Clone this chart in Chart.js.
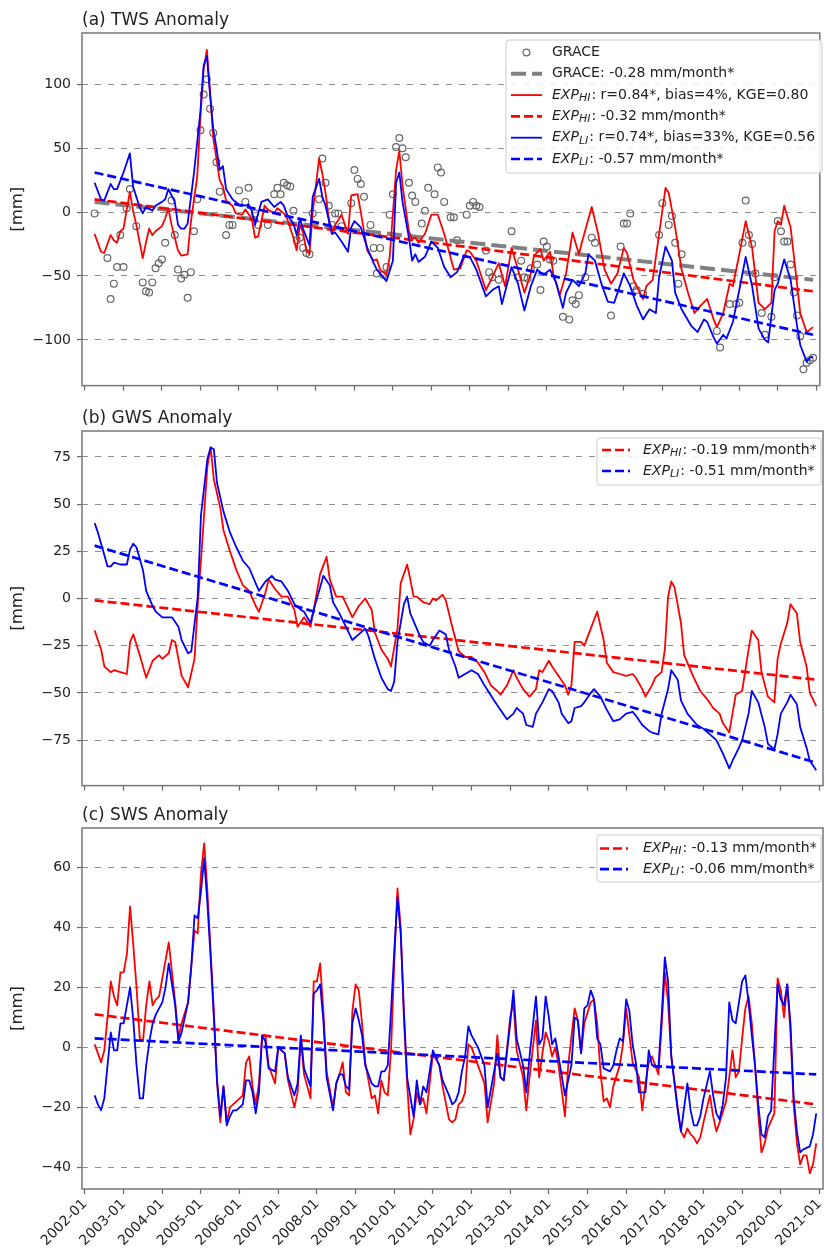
<!DOCTYPE html>
<html>
<head>
<meta charset="utf-8">
<script src="https://cdn.jsdelivr.net/npm/chart.js@4.4.1/dist/chart.umd.min.js"></script>
<style>
  html, body { margin: 0; padding: 0; background: #fff; }
  #wrap { position: relative; width: 825px; height: 1251px; }
  canvas { position: absolute; left: 0; }
</style>
</head>
<body>
<div id="wrap">
  <canvas id="twsChart" width="825" height="400" style="top:0px"></canvas>
  <canvas id="gwsChart" width="825" height="400" style="top:400px"></canvas>
  <canvas id="swsChart" width="825" height="451" style="top:800px"></canvas>
</div>
<script>
// x values are months counted from 2002-01 (0 = 2002-01, 12 = 2003-01 ...)
const tickLabels = ['2002-01', '2003-01', '2004-01', '2005-01', '2006-01', '2007-01', '2008-01',
  '2009-01', '2010-01', '2011-01', '2012-01', '2013-01', '2014-01', '2015-01', '2016-01',
  '2017-01', '2018-01', '2019-01', '2020-01', '2021-01'];

const panelTitles = ['(a) TWS Anomaly', '(b) GWS Anomaly', '(c) SWS Anomaly'];

// (a) TWS
const twsTicks = [-100, -50, 0, 50, 100];
const twsGrace = [[3,-1],[7,-36],[8,-68],[9,-56],[10,-43],[11,-18],[12,-43],[13,3],[14,18],[16,-11],[18,-55],[19,-62],[20,-63],[21,-55],[22,-44],[23,-40],[24,-37],[25,-24],[27,9],[28,-18],[29,-45],[30,-52],[31,-49],[32,-67],[33,-47],[34,-15],[35,10],[36,64],[37,92],[38,104],[39,81],[40,62],[41,39],[42,16],[44,-18],[45,-10],[46,-10],[48,17],[50,8],[51,19],[53,-1],[54,-10],[57,-10],[59,14],[60,19],[61,14],[62,23],[63,21],[64,20],[65,1],[66,-22],[67,-20],[68,-28],[69,-32],[70,-33],[71,-1],[73,10],[74,42],[75,23],[76,5],[77,-10],[78,-1],[79,-1],[80,-11],[83,7],[84,33],[85,26],[86,22],[87,12],[89,-10],[90,-28],[91,-48],[92,-28],[93,-49],[94,-43],[95,-2],[96,14],[97,51],[98,58],[99,50],[100,43],[101,23],[102,13],[103,8],[105,-9],[106,1],[107,19],[109,14],[110,35],[111,31],[112,8],[114,-4],[115,-4],[116,-22],[119,-2],[120,5],[121,8],[122,5],[123,4],[125,-30],[126,-47],[127,-51],[129,-53],[133,-15],[135,-51],[136,-38],[137,-51],[138,-52],[139,-44],[141,-41],[142,-61],[143,-23],[144,-27],[145,-37],[146,-38],[149,-82],[151,-84],[152,-69],[153,-72],[154,-65],[156,-51],[158,-20],[159,-24],[164,-81],[167,-27],[168,-9],[169,-9],[170,-1],[171,-58],[172,-61],[174,-64],[179,-18],[180,7],[182,-10],[183,-3],[184,-24],[185,-56],[186,-33],[197,-93],[198,-106],[201,-72],[203,-72],[204,-71],[205,-24],[206,9],[207,-18],[208,-25],[209,-48],[211,-79],[212,-96],[214,-82],[215,-51],[216,-7],[217,-15],[218,-23],[219,-23],[220,-41],[221,-63],[222,-81],[223,-97],[224,-123],[225,-118],[226,-116],[227,-114]];
const twsHi = [[3,-17],[5,-31],[6,-32],[8,-18],[9,-22],[10,-24],[11,-15],[12,-13],[14,16],[15,1],[16,-10],[18,-36],[19,-24],[20,-13],[21,-18],[22,-15],[24,-11],[25,-5],[26,3],[27,-10],[29,-30],[30,-34],[32,-33],[33,-8],[35,28],[36,75],[37,112],[38,127],[39,94],[40,58],[42,25],[43,20],[44,9],[46,5],[47,-1],[49,-2],[50,2],[52,-5],[53,-20],[54,-19],[56,5],[57,2],[59,-1],[60,3],[62,-1],[63,-5],[65,-20],[66,-30],[67,-10],[68,-16],[69,-30],[70,-33],[71,0],[73,42],[74,30],[75,15],[76,-5],[77,-17],[78,-10],[80,-2],[82,-17],[83,13],[85,14],[86,0],[88,-30],[90,-38],[91,-37],[92,-45],[94,-49],[95,-35],[97,33],[98,48],[99,21],[101,-15],[102,-21],[103,-20],[104,-24],[106,-17],[108,-2],[110,-2],[112,-17],[115,-45],[117,-44],[119,-30],[120,-31],[122,-38],[125,-61],[127,-51],[129,-40],[131,-58],[133,-28],[135,-45],[137,-63],[139,-48],[140,-34],[142,-29],[143,-38],[145,-31],[146,-48],[148,-65],[150,-48],[152,-16],[154,-33],[155,-23],[158,4],[160,-17],[162,-45],[164,-56],[166,-48],[168,-28],[169,-32],[171,-53],[174,-68],[175,-58],[177,-53],[179,-17],[181,19],[182,15],[184,-12],[186,-45],[188,-63],[190,-79],[192,-73],[194,-68],[196,-84],[197,-90],[199,-79],[201,-56],[202,-58],[204,-33],[206,-7],[208,-28],[210,-71],[212,-76],[214,-71],[215,-15],[216,-7],[217,-10],[218,5],[220,-12],[222,-56],[223,-79],[225,-94],[227,-90]];
const twsLi = [[3,23],[5,10],[6,9],[8,22],[9,18],[10,18],[12,31],[14,46],[15,20],[17,4],[18,-1],[19,4],[21,1],[22,5],[24,8],[25,10],[26,18],[28,8],[29,-10],[30,-13],[31,-13],[32,-9],[34,31],[35,55],[36,79],[37,115],[38,122],[39,92],[40,65],[41,50],[42,33],[43,36],[44,18],[46,10],[48,6],[50,5],[51,6],[52,1],[53,-10],[55,8],[57,10],[59,4],[61,8],[62,5],[63,-2],[65,-9],[66,-18],[67,-5],[68,-13],[70,-26],[71,12],[73,26],[74,12],[75,5],[77,-17],[78,-16],[80,-23],[82,-31],[83,-12],[84,-7],[86,-12],[88,-28],[90,-40],[91,-45],[94,-54],[96,-38],[97,23],[98,31],[99,8],[101,-20],[102,-38],[103,-33],[104,-39],[106,-35],[108,-23],[110,-28],[112,-43],[114,-51],[116,-47],[118,-35],[120,-35],[122,-45],[125,-66],[127,-61],[129,-58],[130,-72],[133,-43],[135,-56],[137,-77],[139,-58],[141,-45],[143,-49],[145,-45],[147,-56],[149,-75],[150,-63],[152,-53],[154,-58],[156,-48],[157,-33],[159,-38],[161,-56],[163,-70],[165,-71],[167,-56],[168,-48],[170,-58],[172,-73],[174,-84],[176,-76],[178,-79],[179,-51],[181,-27],[183,-38],[184,-63],[186,-76],[189,-89],[191,-94],[193,-84],[194,-86],[196,-98],[197,-103],[199,-96],[200,-99],[202,-86],[204,-61],[206,-35],[208,-58],[210,-91],[212,-100],[213,-102],[215,-61],[216,-56],[218,-37],[220,-53],[222,-89],[223,-104],[225,-117],[226,-114],[227,-113]];
const twsTrendGrace = [[3,8],[227,-53]];
const twsTrendHi = [[3,10],[227,-62]];
const twsTrendLi = [[3,31],[227,-96]];
const twsLabels = ['GRACE', 'GRACE: -0.28 mm/month*', 'EXP_HI: r=0.84*, bias=4%, KGE=0.80',
  'EXP_HI: -0.32 mm/month*', 'EXP_LI: r=0.74*, bias=33%, KGE=0.56', 'EXP_LI: -0.57 mm/month*'];

// (b) GWS
const gwsTicks = [-75, -50, -25, 0, 25, 50, 75];
const gwsHi = [[3,-17],[5,-27],[6,-36],[8,-39],[9,-38],[11,-39],[13,-40],[14,-23],[15,-19],[17,-30],[19,-42],[21,-33],[23,-30],[24,-32],[26,-29],[27,-22],[28,-23],[30,-41],[32,-47],[34,-32],[35,-3],[36,20],[37,45],[38,70],[39,80],[40,63],[42,48],[43,36],[45,25],[47,15],[49,7],[51,4],[53,-4],[54,-7],[56,3],[57,10],[59,5],[61,1],[63,1],[65,-6],[66,-15],[68,-10],[70,-15],[71,-6],[73,13],[75,22],[76,10],[78,1],[80,1],[83,-10],[85,-4],[87,0],[89,-6],[90,-18],[92,-27],[94,-32],[95,-36],[97,-16],[98,8],[100,18],[101,10],[102,1],[103,1],[105,-2],[107,-3],[108,0],[109,-1],[111,2],[112,-1],[114,-15],[116,-28],[118,-31],[120,-31],[122,-34],[124,-39],[126,-46],[128,-49],[129,-51],[131,-46],[133,-38],[134,-42],[136,-48],[138,-52],[140,-48],[141,-38],[142,-39],[144,-33],[145,-36],[147,-41],[149,-46],[150,-51],[151,-46],[152,-23],[154,-23],[155,-25],[157,-16],[159,-7],[161,-22],[162,-34],[164,-39],[166,-40],[168,-41],[170,-40],[171,-42],[173,-48],[174,-52],[176,-46],[177,-42],[179,-39],[180,-27],[181,1],[182,9],[183,6],[185,-13],[186,-30],[189,-42],[191,-49],[193,-53],[195,-58],[197,-61],[198,-66],[200,-71],[201,-61],[202,-51],[204,-49],[206,-27],[207,-17],[209,-22],[210,-39],[212,-52],[214,-55],[215,-32],[216,-24],[218,-13],[219,-3],[221,-8],[222,-23],[224,-36],[225,-50],[227,-57]];
const gwsLi = [[3,40],[4,35],[5,29],[6,23],[7,17],[8,17],[9,19],[11,18],[13,18],[14,26],[15,29],[16,27],[18,15],[19,4],[21,-4],[22,-7],[24,-10],[26,-10],[27,-10],[29,-15],[30,-22],[32,-29],[33,-28],[35,1],[36,44],[38,74],[39,80],[40,79],[41,61],[43,46],[45,35],[47,27],[49,20],[51,16],[53,8],[54,4],[56,9],[58,12],[59,10],[61,9],[63,4],[65,-3],[67,-6],[68,-7],[70,-13],[71,-6],[73,6],[74,12],[76,7],[77,-2],[79,-8],[81,-15],[83,-22],[85,-19],[87,-16],[88,-20],[90,-32],[92,-42],[94,-48],[95,-49],[96,-44],[97,-23],[99,-3],[100,1],[101,-8],[102,-12],[103,-16],[104,-20],[105,-23],[107,-25],[108,-22],[110,-17],[112,-19],[113,-27],[115,-36],[116,-42],[118,-40],[120,-38],[122,-40],[124,-46],[127,-54],[129,-59],[131,-64],[133,-61],[134,-58],[136,-61],[137,-67],[139,-68],[140,-61],[142,-55],[144,-48],[145,-49],[147,-55],[148,-61],[150,-66],[151,-65],[152,-58],[154,-57],[155,-55],[157,-50],[158,-48],[160,-52],[162,-59],[164,-65],[166,-64],[168,-61],[170,-60],[171,-62],[173,-67],[175,-70],[176,-71],[178,-72],[179,-61],[181,-48],[182,-38],[184,-43],[185,-54],[187,-61],[190,-67],[192,-69],[194,-72],[196,-75],[198,-82],[200,-90],[201,-86],[203,-79],[204,-75],[206,-61],[207,-49],[209,-55],[211,-68],[212,-77],[214,-80],[215,-72],[216,-61],[218,-55],[219,-51],[221,-56],[222,-68],[224,-79],[225,-86],[227,-91]];
const gwsTrendHi = [[3,-1],[227,-43]];
const gwsTrendLi = [[3,28],[227,-87]];
const gwsLabels = ['EXP_HI: -0.19 mm/month*', 'EXP_LI: -0.51 mm/month*'];

// (c) SWS
const swsTicks = [-40, -20, 0, 20, 40, 60];
const swsHi = [[3,1],[4,-2],[5,-5],[6,-1],[7,10],[8,22],[9,17],[10,14],[11,25],[12,25],[13,31],[14,47],[15,34],[16,20],[17,3],[18,2],[19,14],[20,22],[21,14],[22,16],[23,17],[24,23],[26,35],[27,25],[28,15],[29,3],[30,8],[32,15],[33,27],[34,39],[35,38],[36,58],[37,68],[38,52],[39,32],[40,12],[41,-12],[42,-25],[43,-13],[44,-25],[45,-20],[46,-19],[47,-18],[49,-16],[50,-5],[51,-3],[52,-13],[53,-19],[54,-12],[55,4],[56,4],[57,-6],[59,-12],[60,0],[62,-2],[63,-11],[65,-20],[66,-15],[67,3],[68,-9],[70,-17],[71,22],[72,22],[73,28],[74,12],[75,-8],[77,-20],[78,-12],[79,-9],[80,-5],[81,-15],[82,-16],[83,12],[84,21],[85,19],[86,8],[87,-5],[89,-17],[90,-16],[91,-22],[92,-11],[93,-15],[94,-16],[95,-1],[96,28],[97,53],[98,40],[99,10],[100,-12],[101,-29],[102,-24],[103,-15],[104,-19],[105,-17],[106,-22],[107,-12],[108,-2],[110,-6],[111,-13],[113,-24],[114,-25],[115,-24],[116,-19],[117,-18],[118,-15],[119,1],[120,0],[122,-6],[124,-12],[125,-25],[127,-12],[128,4],[129,-10],[130,-11],[132,10],[133,15],[134,-1],[136,-10],[137,-21],[138,-10],[140,9],[141,-10],[142,-2],[143,5],[144,2],[145,-3],[146,0],[147,-6],[149,-23],[150,-6],[152,13],[153,9],[154,-2],[155,8],[157,15],[158,16],[159,8],[160,-8],[161,-18],[162,-17],[163,-20],[164,-13],[166,-6],[167,1],[168,13],[169,4],[170,-5],[172,-10],[173,-21],[174,-12],[175,-5],[176,-3],[177,-6],[178,-9],[179,7],[180,25],[181,15],[182,-3],[184,-20],[185,-28],[186,-30],[187,-27],[188,-29],[189,-30],[190,-32],[191,-30],[192,-25],[194,-16],[195,-23],[196,-28],[197,-25],[199,-18],[200,-10],[201,-1],[202,-10],[203,-8],[204,3],[205,13],[206,17],[207,8],[208,-6],[209,-22],[210,-35],[211,-32],[212,-27],[214,-22],[215,23],[216,19],[217,10],[218,21],[219,5],[220,-19],[221,-32],[222,-39],[223,-36],[224,-36],[225,-42],[226,-39],[227,-32]];
const swsLi = [[3,-16],[4,-19],[5,-21],[6,-17],[7,-6],[8,5],[9,-1],[10,-1],[11,8],[12,8],[13,14],[14,20],[15,9],[16,-6],[17,-17],[18,-17],[19,-6],[20,2],[21,8],[22,11],[24,15],[25,20],[26,28],[28,14],[29,2],[30,5],[32,15],[33,27],[34,44],[35,43],[36,52],[37,63],[38,48],[39,30],[40,10],[41,-11],[42,-23],[43,-13],[44,-26],[45,-23],[46,-21],[47,-21],[49,-19],[50,-11],[51,-11],[52,-15],[53,-22],[54,-15],[55,4],[56,2],[57,-7],[59,-8],[60,0],[62,-2],[63,-10],[65,-16],[66,-12],[67,4],[68,-7],[70,-13],[71,18],[72,19],[73,21],[74,9],[75,-10],[77,-21],[78,-12],[79,-9],[80,-9],[81,-13],[82,-14],[83,8],[84,13],[85,9],[86,4],[87,-6],[89,-12],[90,-13],[91,-13],[92,-8],[93,-8],[94,-6],[95,12],[96,32],[97,50],[98,38],[99,12],[100,-10],[102,-23],[103,-11],[104,-19],[105,-13],[106,-15],[107,-8],[108,-1],[110,-6],[111,-11],[113,-16],[114,-19],[115,-18],[116,-15],[117,-8],[118,-3],[119,7],[120,4],[122,0],[124,-6],[125,-20],[127,-8],[128,-2],[129,-10],[130,-11],[132,8],[133,19],[134,3],[136,-6],[137,-15],[138,-3],[140,17],[141,1],[142,3],[143,17],[144,10],[145,1],[146,3],[147,-3],[149,-16],[151,-6],[152,10],[153,9],[154,-2],[155,13],[156,14],[157,19],[158,16],[159,3],[160,1],[161,-7],[163,-8],[164,-6],[165,-1],[166,3],[167,2],[168,16],[169,12],[170,1],[171,-5],[172,-15],[174,-15],[175,-1],[176,-6],[177,-6],[178,-7],[179,10],[180,30],[181,22],[182,-3],[184,-21],[185,-28],[186,-20],[187,-12],[188,-21],[189,-26],[190,-26],[191,-23],[192,-17],[194,-8],[195,-16],[196,-22],[197,-24],[198,-19],[199,-10],[200,15],[201,9],[202,8],[203,15],[204,22],[205,24],[206,15],[207,4],[208,-6],[209,-19],[210,-29],[211,-30],[212,-23],[213,-21],[215,21],[216,16],[217,14],[218,21],[219,8],[220,-17],[221,-28],[222,-35],[223,-34],[225,-33],[226,-29],[227,-22]];
const swsTrendHi = [[3,11],[227,-19]];
const swsTrendLi = [[3,3],[227,-9]];
const swsLabels = ['EXP_HI: -0.13 mm/month*', 'EXP_LI: -0.06 mm/month*'];

// ---------------------------------------------------------------
const FONT = '"DejaVu Sans", "Liberation Sans", sans-serif';
const RED = '#ff0000';
const BLUE = '#0000ff';
const GRAY = '#808080';
const TEXT = '#222222';

Chart.defaults.font.family = FONT;
Chart.defaults.color = TEXT;

function pts(arr) {
  return arr.map(p => ({ x: p[0], y: p[1] }));
}

function minusFmt(v) {
  return v < 0 ? '\u2212' + Math.abs(v) : String(v);
}

// line style presets
function solidLine(label, data, color, order) {
  return { label, data: pts(data), borderColor: color, borderWidth: 1.8, pointRadius: 0,
    tension: 0, fill: false, borderJoinStyle: 'round', order };
}
function trendLine(label, data, color, order, width, dash) {
  return { label, data: pts(data), borderColor: color, borderWidth: width || 2.7,
    borderDash: dash || [9, 4], pointRadius: 0, tension: 0, fill: false, order };
}

// panel title above the plot box
const panelTitle = {
  id: 'panelTitle',
  afterDraw(chart, args, opts) {
    const { ctx, chartArea } = chart;
    ctx.save();
    ctx.font = '17px ' + FONT;
    ctx.fillStyle = TEXT;
    ctx.textAlign = 'left';
    ctx.textBaseline = 'alphabetic';
    ctx.fillText(opts.text, chartArea.left, chartArea.top - 8);
    ctx.restore();
  }
};

// matplotlib style box round the axes
const frame = {
  id: 'frame',
  afterDatasetsDraw(chart) {
    const { ctx, chartArea: a } = chart;
    ctx.save();
    ctx.strokeStyle = '#777';
    ctx.lineWidth = 1.5;
    ctx.strokeRect(a.left, a.top, a.right - a.left, a.bottom - a.top);
    ctx.restore();
  }
};

// label text like "EXP_HI: ..." -> italic EXP with subscript
function drawRich(ctx, text, x, y) {
  const m = text.match(/^EXP_(\w+)(.*)$/);
  ctx.fillStyle = TEXT;
  ctx.textAlign = 'left';
  ctx.textBaseline = 'middle';
  if (!m) {
    ctx.font = '14px ' + FONT;
    ctx.fillText(text, x, y);
    return;
  }
  ctx.font = 'italic 14px ' + FONT;
  ctx.fillText('EXP', x, y);
  x += ctx.measureText('EXP').width;
  ctx.font = 'italic 11px ' + FONT;
  ctx.fillText(m[1], x, y + 3);
  x += ctx.measureText(m[1]).width + 1;
  ctx.font = '14px ' + FONT;
  ctx.fillText(m[2], x, y);
}

const boxLegend = {
  id: 'boxLegend',
  afterDraw(chart, args, o) {
    if (!o.box) return;
    const ctx = chart.ctx;
    const [bx, by, bw, bh] = o.box;
    ctx.save();
    ctx.beginPath();
    ctx.roundRect(bx, by, bw, bh, 3);
    ctx.fillStyle = 'rgba(255,255,255,0.85)';
    ctx.fill();
    ctx.strokeStyle = '#cccccc';
    ctx.lineWidth = 1;
    ctx.stroke();
    o.items.forEach((di, row) => {
      const ds = chart.data.datasets[di];
      const y = o.rowY + row * o.rowGap;
      if (ds.showLine === false) {
        ctx.beginPath();
        ctx.arc((o.sx0 + o.sx1) / 2, y, ds.pointRadius, 0, Math.PI * 2);
        ctx.lineWidth = ds.pointBorderWidth;
        ctx.strokeStyle = ds.pointBorderColor;
        ctx.stroke();
      } else {
        ctx.setLineDash(ds.borderDash || []);
        ctx.lineWidth = ds.borderWidth;
        ctx.strokeStyle = ds.borderColor;
        ctx.beginPath();
        ctx.moveTo(o.sx0, y);
        ctx.lineTo(o.sx1, y);
        ctx.stroke();
        ctx.setLineDash([]);
      }
      drawRich(ctx, ds.label, o.tx, y);
    });
    ctx.restore();
  }
};

function makeScales(yMin, yMax, yTicks, showX, xHeight) {
  return {
    x: {
      type: 'linear',
      min: -0.93,
      max: 229.1,
      bounds: 'data',
      afterBuildTicks: s => { s.ticks = tickLabels.map((_, i) => ({ value: i * 12 })); },
      afterFit: s => { s.height = xHeight; s.paddingLeft = 0; s.paddingRight = 0; },
      grid: { drawOnChartArea: false, drawTicks: true, tickLength: 5, tickColor: '#666', tickWidth: 1.2 },
      border: { display: false },
      ticks: {
        display: showX,
        autoSkip: false,
        maxRotation: 45,
        minRotation: 45,
        padding: 2,
        font: { size: 14 },
        color: TEXT,
        callback: (v, i) => tickLabels[i]
      }
    },
    y: {
      type: 'linear',
      min: yMin,
      max: yMax,
      bounds: 'data',
      afterBuildTicks: s => { s.ticks = yTicks.map(v => ({ value: v })); },
      afterFit: s => { s.width = 82; },
      grid: { color: '#8f8f8f', lineWidth: 1.1, drawTicks: true, tickLength: 5, tickColor: '#666', tickWidth: 1.2 },
      border: { display: false, dash: [6, 7] },
      ticks: { padding: 6, font: { size: 14 }, color: TEXT, callback: v => minusFmt(v) },
      title: { display: true, text: '[mm]', font: { size: 16.5 }, color: TEXT, padding: { top: 8, bottom: 0 } }
    }
  };
}

function baseOptions(scales, padTop, title, legendOpts) {
  return {
    responsive: false,
    animation: false,
    devicePixelRatio: 1,
    events: [],
    layout: { padding: { top: padTop, right: 2, bottom: 0, left: 0 } },
    scales,
    plugins: {
      legend: { display: false },
      tooltip: { enabled: false },
      panelTitle: { text: title },
      boxLegend: legendOpts
    }
  };
}

// (a) TWS
new Chart(document.getElementById('twsChart'), {
  type: 'line',
  data: {
    datasets: [
      { label: twsLabels[0], data: pts(twsGrace), showLine: false, pointRadius: 3.4,
        pointBorderWidth: 1.2, pointBorderColor: '#666', pointBackgroundColor: 'rgba(0,0,0,0)', order: 5 },
      trendLine(twsLabels[1], twsTrendGrace, GRAY, 4, 4, [15, 6]),
      solidLine(twsLabels[2], twsHi, RED, 3),
      trendLine(twsLabels[3], twsTrendHi, RED, 2),
      solidLine(twsLabels[4], twsLi, BLUE, 1),
      trendLine(twsLabels[5], twsTrendLi, BLUE, 0)
    ]
  },
  options: baseOptions(makeScales(-135.8, 140.2, twsTicks, false, 5), 33, panelTitles[0],
    { box: [506, 40, 316, 133], rowY: 52.5, rowGap: 21.3, sx0: 511, sx1: 542, tx: 552, items: [0, 1, 2, 3, 4, 5] }),
  plugins: [panelTitle, frame, boxLegend]
});

// (b) GWS
new Chart(document.getElementById('gwsChart'), {
  type: 'line',
  data: {
    datasets: [
      solidLine('EXP_HI', gwsHi, RED, 3),
      trendLine(gwsLabels[0], gwsTrendHi, RED, 2),
      solidLine('EXP_LI', gwsLi, BLUE, 1),
      trendLine(gwsLabels[1], gwsTrendLi, BLUE, 0)
    ]
  },
  options: baseOptions(makeScales(-99.1, 88.7, gwsTicks, false, 8), 31, panelTitles[1],
    { box: [597, 38, 224, 47], rowY: 50, rowGap: 21, sx0: 602, sx1: 630, tx: 643, items: [1, 3] }),
  plugins: [panelTitle, frame, boxLegend]
});

// (c) SWS
new Chart(document.getElementById('swsChart'), {
  type: 'line',
  data: {
    datasets: [
      solidLine('EXP_HI', swsHi, RED, 3),
      trendLine(swsLabels[0], swsTrendHi, RED, 2),
      solidLine('EXP_LI', swsLi, BLUE, 1),
      trendLine(swsLabels[1], swsTrendLi, BLUE, 0)
    ]
  },
  options: baseOptions(makeScales(-47.2, 73.1, swsTicks, true, 62), 28, panelTitles[2],
    { box: [597, 35, 224, 47], rowY: 48.5, rowGap: 20.7, sx0: 600, sx1: 628, tx: 643, items: [1, 3] }),
  plugins: [panelTitle, frame, boxLegend]
});
</script>
</body>
</html>
